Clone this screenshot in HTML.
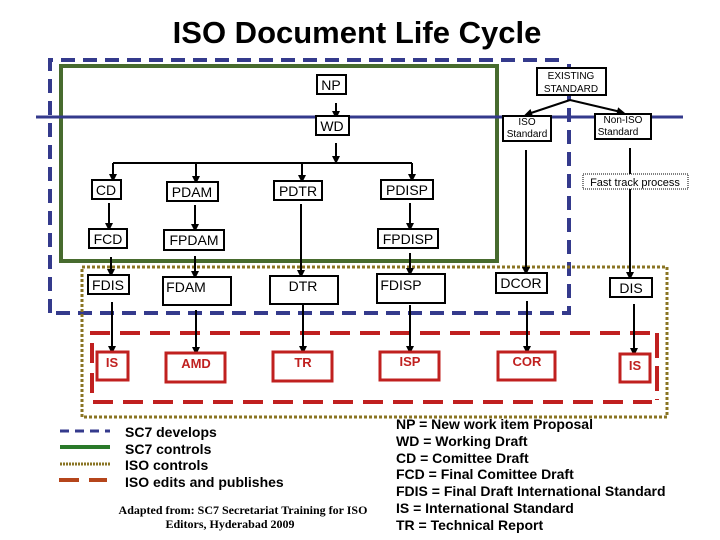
<!DOCTYPE html>
<html><head><meta charset="utf-8"><style>
body{margin:0;background:#fff;width:720px;height:540px;overflow:hidden}
svg{display:block}
.s{font-family:"Liberation Sans",sans-serif}
.r{font-family:"Liberation Serif",serif}
</style></head><body>
<svg width="720" height="540" viewBox="0 0 720 540" class="s">
<defs><marker id="a" markerWidth="8" markerHeight="8" refX="4" refY="4" orient="auto" markerUnits="userSpaceOnUse"><path d="M0,0 L8,4 L0,8 Z" fill="#000"/></marker></defs>
<text x="357" y="43" font-size="31" font-weight="bold" text-anchor="middle">ISO Document Life Cycle</text>
<path d="M50,313 L50,60 L566,60 M569,64 L569,313 L50,313" fill="none" stroke="#343a8c" stroke-width="4" stroke-dasharray="14,8"/>
<rect x="61" y="66" width="436" height="195" fill="none" stroke="#476b2e" stroke-width="4"/>
<line x1="36" y1="117" x2="683" y2="117" stroke="#343a8c" stroke-width="3"/>
<rect x="82" y="267" width="585" height="150" fill="none" stroke="#8a7423" stroke-width="3" stroke-dasharray="3,2"/>
<path d="M90,333 L655,333" stroke="#c0201f" stroke-width="4" stroke-dasharray="20,10" fill="none"/>
<path d="M92,343 L92,402 L652,402" stroke="#c0201f" stroke-width="4" stroke-dasharray="20,10" fill="none"/>
<path d="M657,333 L657,400" stroke="#c0201f" stroke-width="4" stroke-dasharray="25,8" fill="none"/>
<g stroke="#000" stroke-width="2" fill="none" marker-end="url(#a)">
<line x1="336" y1="103" x2="336" y2="115"/>
<line x1="336" y1="143" x2="336" y2="160"/>
<line x1="113" y1="163" x2="113" y2="178"/>
<line x1="196" y1="163" x2="196" y2="180"/>
<line x1="302" y1="163" x2="302" y2="179"/>
<line x1="412" y1="163" x2="412" y2="178"/>
<line x1="109" y1="203" x2="109" y2="227"/>
<line x1="111" y1="257" x2="111" y2="273"/>
<line x1="112" y1="302" x2="112" y2="350"/>
<line x1="195" y1="205" x2="195" y2="228"/>
<line x1="195" y1="256" x2="195" y2="275"/>
<line x1="196" y1="310" x2="196" y2="351"/>
<line x1="301" y1="204" x2="301" y2="274"/>
<line x1="303" y1="305" x2="303" y2="350"/>
<line x1="410" y1="203" x2="410" y2="227"/>
<line x1="410" y1="253" x2="410" y2="272"/>
<line x1="410" y1="305" x2="410" y2="350"/>
<line x1="526" y1="150" x2="526" y2="271"/>
<line x1="527" y1="301" x2="527" y2="350"/>
<line x1="630" y1="148" x2="630" y2="276"/>
<line x1="634" y1="304" x2="634" y2="352"/>
<line x1="570" y1="100" x2="528" y2="114"/>
<line x1="570" y1="100" x2="621" y2="112"/>
</g>
<line x1="113" y1="163" x2="412" y2="163" stroke="#000" stroke-width="2"/>
<g fill="#fff" stroke="#000" stroke-width="2">
<rect x="317" y="75" width="29" height="19"/>
<rect x="316" y="116" width="33" height="19"/>
<rect x="92" y="180" width="29" height="19"/>
<rect x="167" y="182" width="51" height="19"/>
<rect x="274" y="181" width="48" height="19"/>
<rect x="381" y="180" width="52" height="19"/>
<rect x="89" y="229" width="38" height="19"/>
<rect x="164" y="230" width="60" height="20"/>
<rect x="378" y="229" width="60" height="19"/>
<rect x="88" y="275" width="41" height="19"/>
<rect x="163" y="277" width="68" height="28"/>
<rect x="270" y="276" width="68" height="28"/>
<rect x="377" y="274" width="68" height="29"/>
<rect x="496" y="273" width="51" height="20"/>
<rect x="610" y="278" width="42" height="19"/>
<rect x="537" y="68" width="69" height="27"/>
<rect x="503" y="116" width="48" height="25"/>
<rect x="595" y="114" width="56" height="25"/>
</g>
<g fill="#fff" stroke="#c0201f" stroke-width="3">
<rect x="97" y="352" width="31" height="28"/>
<rect x="166" y="353" width="59" height="29"/>
<rect x="273" y="352" width="59" height="29"/>
<rect x="380" y="352" width="59" height="28"/>
<rect x="498" y="352" width="57" height="28"/>
<rect x="620" y="354" width="30" height="28"/>
</g>
<rect x="583" y="174" width="105" height="15" fill="#fff" stroke="#000" stroke-width="1" stroke-dasharray="1,1"/>
<g font-size="14" text-anchor="middle">
<text x="331" y="90">NP</text><text x="332" y="131">WD</text>
<text x="106" y="195">CD</text><text x="192" y="197">PDAM</text><text x="298" y="196">PDTR</text><text x="407" y="195">PDISP</text>
<text x="108" y="244">FCD</text><text x="194" y="245">FPDAM</text><text x="408" y="244">FPDISP</text>
<text x="108" y="290">FDIS</text><text x="186" y="292">FDAM</text><text x="303" y="291">DTR</text><text x="401" y="290">FDISP</text>
<text x="521" y="288">DCOR</text><text x="631" y="293">DIS</text>
</g>
<g font-size="10" text-anchor="middle">
<text x="571" y="79">EXISTING</text><text x="571" y="92">STANDARD</text>
<text x="527" y="125">ISO</text><text x="527" y="137">Standard</text>
<text x="623" y="123">Non-ISO</text><text x="618" y="135">Standard</text>
<text x="635" y="186" font-size="11">Fast track process</text>
</g>
<g font-size="13" font-weight="bold" fill="#c0201f" text-anchor="middle">
<text x="112" y="367">IS</text><text x="196" y="368">AMD</text><text x="303" y="367">TR</text>
<text x="410" y="366">ISP</text><text x="527" y="366">COR</text><text x="635" y="370">IS</text>
</g>
<line x1="60" y1="431" x2="110" y2="431" stroke="#343a8c" stroke-width="3" stroke-dasharray="9,6"/>
<line x1="60" y1="447" x2="110" y2="447" stroke="#2a7a2a" stroke-width="4"/>
<line x1="60" y1="464" x2="110" y2="464" stroke="#8a7423" stroke-width="3" stroke-dasharray="2,1"/>
<line x1="59" y1="480" x2="107" y2="480" stroke="#b5451b" stroke-width="4" stroke-dasharray="20,10"/>
<g font-size="14" font-weight="bold">
<text x="125" y="437">SC7 develops</text><text x="125" y="454">SC7 controls</text>
<text x="125" y="470">ISO  controls</text><text x="125" y="487">ISO  edits and publishes</text>
<text x="396" y="429">NP = New work item Proposal</text>
<text x="396" y="446">WD = Working Draft</text>
<text x="396" y="463">CD   = Comittee Draft</text>
<text x="396" y="479">FCD = Final Comittee Draft</text>
<text x="396" y="496">FDIS = Final Draft International Standard</text>
<text x="396" y="513">IS     = International Standard</text>
<text x="396" y="530">TR     = Technical Report</text>
</g>
<g font-size="12" font-weight="bold" text-anchor="middle">
<text class="r" x="243" y="514">Adapted from: SC7 Secretariat Training for ISO</text>
<text class="r" x="230" y="528">Editors, Hyderabad 2009</text>
</g>
</svg>
</body></html>
